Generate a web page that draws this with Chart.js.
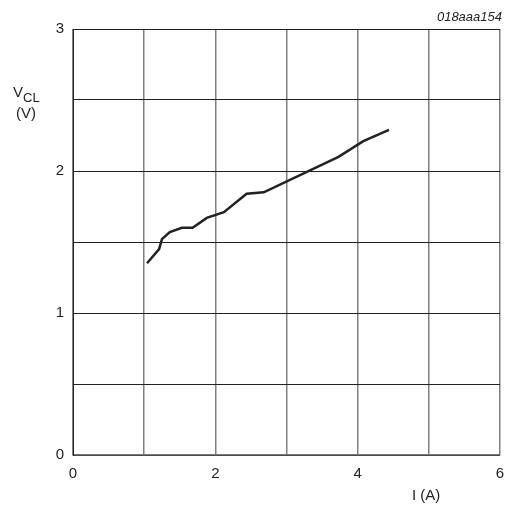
<!DOCTYPE html>
<html>
<head>
<meta charset="utf-8">
<script src="https://cdn.jsdelivr.net/npm/chart.js"></script>
<style>
  html, body { margin: 0; padding: 0; background: #fff; }
  #wrap { width: 510px; height: 507px; }
</style>
</head>
<body>
<div id="wrap"><canvas id="c" width="510" height="507"></canvas></div>
<script>
// I (A) vs V_CL (V)
const currentA = [1.04, 1.21, 1.25, 1.36, 1.53, 1.68, 1.88, 2.12, 2.44, 2.68, 3.73, 4.08, 4.44]
const voltageV = [1.35, 1.45, 1.52, 1.57, 1.60, 1.60, 1.67, 1.71, 1.84, 1.85, 2.10, 2.21, 2.29]
const xTicks = [0, 2, 4, 6]
const yTicks = [0, 1, 2, 3]

const FONT = '"Liberation Sans", Arial, sans-serif'

const labels = {
    id: 'labels',
    afterDraw(chart) {
        const ctx = chart.ctx
        ctx.save()
        ctx.fillStyle = '#222'
        ctx.textBaseline = 'alphabetic'
        // y axis title with subscript
        ctx.font = '15px ' + FONT
        ctx.textAlign = 'left'
        ctx.fillText('V', 13, 97)
        const w = ctx.measureText('V').width
        ctx.font = '13px ' + FONT
        ctx.fillText('CL', 13 + w, 102)
        ctx.font = '15px ' + FONT
        ctx.fillText('(V)', 16, 118)
        // x axis title
        ctx.fillText('I (A)', 412, 500)
        // figure id
        ctx.font = 'italic 13px ' + FONT
        ctx.textAlign = 'right'
        ctx.fillText('018aaa154', 502, 21)
        ctx.restore()
    }
}

new Chart(document.getElementById('c'), {
    type: 'scatter',
    data: {
        datasets: [{
            data: currentA.map((x, i) => ({ x, y: voltageV[i] })),
            showLine: true,
            borderColor: '#222',
            borderWidth: 2.5,
            pointRadius: 0,
            tension: 0
        }]
    },
    options: {
        responsive: false,
        animation: false,
        layout: { padding: { top: 29, right: 10, left: 0, bottom: 0 } },
        plugins: { legend: { display: false }, tooltip: { enabled: false } },
        scales: {
            x: {
                type: 'linear', min: 0, max: 6,
                afterFit: s => { s.height = 52; s.paddingLeft = 0; s.paddingRight = 0 },
                border: { color: '#777', width: 1.5 },
                grid: { color: '#808080', lineWidth: 1.5, drawTicks: false },
                ticks: {
                    stepSize: 1, padding: 10, color: '#222',
                    font: { family: FONT, size: 15 },
                    callback: v => xTicks.includes(v) ? String(v) : ''
                }
            },
            y: {
                min: 0, max: 3,
                afterFit: s => { s.width = 73; s.paddingTop = 0; s.paddingBottom = 0 },
                border: { color: '#222', width: 1 },
                grid: { color: '#222', lineWidth: 1, drawTicks: false },
                ticks: {
                    stepSize: 0.5, padding: 9, color: '#222',
                    font: { family: FONT, size: 15 },
                    callback: v => yTicks.includes(v) ? String(v) : ''
                }
            }
        }
    },
    plugins: [labels]
})
</script>
</body>
</html>
